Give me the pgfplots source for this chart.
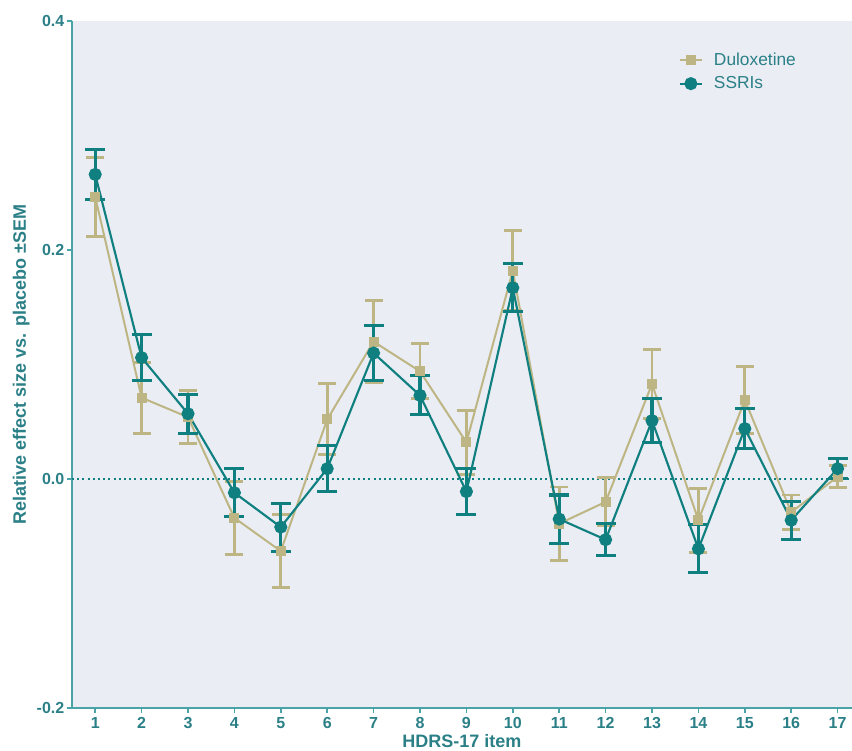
\documentclass[border=0pt]{standalone}
\usepackage{fontspec}
\setmainfont{Liberation Sans}
\usepackage{pgfplots}
\usepackage{pgfplotstable}
\pgfplotsset{compat=1.18}
\definecolor{tealc}{HTML}{0F7F80}
\definecolor{khaki}{HTML}{BDB684}
\definecolor{bgc}{HTML}{EAEDF3}
\definecolor{axc}{HTML}{4AA3A6}
\definecolor{txt}{HTML}{2B8087}

\pgfplotstableread{
x y e
1 0.2465 0.0345
2 0.071 0.031
3 0.054 0.023
4 -0.034 0.032
5 -0.063 0.032
6 0.052 0.031
7 0.120 0.036
8 0.094 0.024
9 0.032 0.028
10 0.182 0.035
11 -0.039 0.032
12 -0.020 0.021
13 0.083 0.030
14 -0.036 0.028
15 0.069 0.029
16 -0.029 0.015
17 0.002 0.0095
}\dulox

\pgfplotstableread{
x y e
1 0.266 0.022
2 0.106 0.020
3 0.057 0.017
4 -0.012 0.021
5 -0.042 0.021
6 0.009 0.020
7 0.110 0.024
8 0.073 0.017
9 -0.011 0.020
10 0.167 0.021
11 -0.035 0.021
12 -0.053 0.014
13 0.051 0.019
14 -0.061 0.021
15 0.044 0.0175
16 -0.036 0.0165
17 0.009 0.0085
}\ssri

\begin{document}
\begin{tikzpicture}
\begin{axis}[
  at={(0,0)}, anchor=south west,
  scale only axis, width=585pt, height=515.25pt,
  xmin=0.5, xmax=17.31, ymin=-0.2, ymax=0.4,
  axis x line*=bottom, axis y line*=left,
  axis background/.style={fill=bgc},
  axis line style={axc, line width=1.5pt},
  xtick={1,...,17}, ytick={-0.2,0,0.2,0.4},
  tick align=outside, major tick length=3.75pt,
  tick style={axc, line width=1.1pt},
  /pgf/number format/assume math mode=true,
  y tick label style={/pgf/number format/fixed, /pgf/number format/fixed zerofill, /pgf/number format/precision=1,
    font=\fontsize{12}{14}\selectfont\bfseries, xshift=1.5pt, text=txt},
  x tick label style={font=\fontsize{12}{14}\selectfont\bfseries, yshift=0pt, text=txt},
  ylabel={Relative effect size vs. placebo ±SEM},
  ylabel style={at={(axis description cs:0,0.5)}, anchor=center, yshift=38pt, font=\fontsize{13.5}{15}\selectfont\bfseries, text=txt},
  xlabel={HDRS-17 item},
  xlabel style={at={(axis description cs:0.5,0)}, anchor=north, inner sep=0pt, yshift=-19.5pt, font=\fontsize{13.5}{15}\selectfont\bfseries, text=txt},
  legend style={at={(rel axis cs:0.772,0.962)}, anchor=north west, draw=none, fill=none,
    font=\fontsize{13}{15}\selectfont, text=txt, row sep=3pt, column sep=6pt},
  legend cell align=left,
  clip=false,
]
\addplot[tealc, line width=1.5pt, dash pattern=on 1.5pt off 2.4pt, forget plot] coordinates {(0.5,0) (17.31,0)};
\addplot[khaki, line width=1.5pt, mark=square*, mark size=3pt, mark options={solid},
  error bars/.cd, y dir=both, y explicit,
  error bar style={line width=2.2pt, khaki},
  error mark options={rotate=90, mark size=6.75pt, line width=2.2pt, khaki}]
  table[x=x, y=y, y error=e] {\dulox};
\addlegendentry{Duloxetine}
\addplot[tealc, line width=1.6pt, mark=*, mark size=4.1pt, mark options={solid},
  error bars/.cd, y dir=both, y explicit,
  error bar style={line width=2.3pt, tealc},
  error mark options={rotate=90, mark size=7.5pt, line width=2.3pt, tealc}]
  table[x=x, y=y, y error=e] {\ssri};
\addlegendentry{SSRIs}
\end{axis}
\pgfresetboundingbox
\useasboundingbox (-54pt,-31.5pt) rectangle (585pt,531pt);
\end{tikzpicture}
\end{document}
